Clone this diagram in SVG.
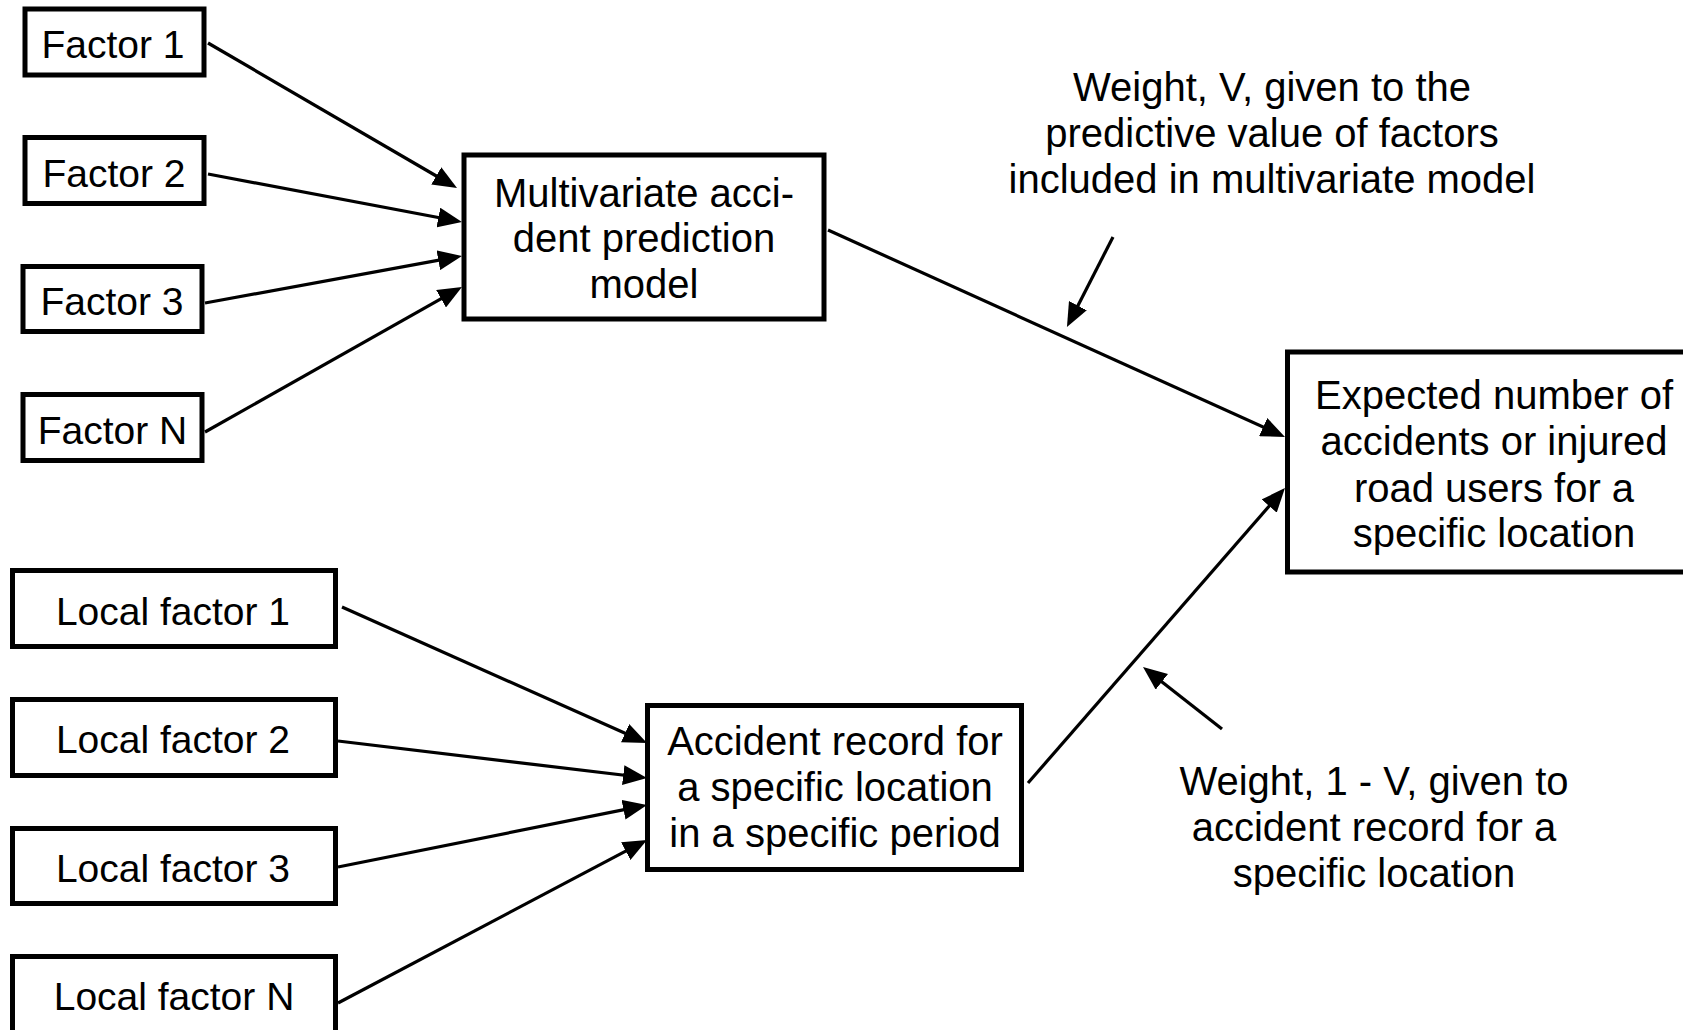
<svg xmlns="http://www.w3.org/2000/svg" width="1683" height="1030" viewBox="0 0 1683 1030">
<style>
.box{fill:#fff;stroke:#000;stroke-width:5}
.t{font-family:"Liberation Sans",Arial,sans-serif;font-size:40px;fill:#000;text-anchor:middle}
.f{font-size:39px}
.c{stroke:#000;stroke-width:3.2;fill:none;marker-end:url(#ah)}
</style>
<defs>
<marker id="ah" markerUnits="userSpaceOnUse" markerWidth="24" markerHeight="20" refX="16" refY="10" orient="auto">
<path d="M0,0 L24,10 L0,20 z" fill="#000"/>
</marker>
</defs>
<rect width="1683" height="1030" fill="#fff"/>
<g id="connectors">
<line class="c" x1="208" y1="43" x2="450.1" y2="184.0"/>
<line class="c" x1="208" y1="174" x2="454.1" y2="220.5"/>
<line class="c" x1="205" y1="303" x2="454.1" y2="257.4"/>
<line class="c" x1="205" y1="432" x2="455.0" y2="290.9"/>
<line class="c" x1="342" y1="607" x2="639.7" y2="739.7"/>
<line class="c" x1="338" y1="741" x2="639.1" y2="777.0"/>
<line class="c" x1="338" y1="867" x2="639.2" y2="806.6"/>
<line class="c" x1="338" y1="1003" x2="639.9" y2="843.7"/>
<line class="c" x1="828" y1="230" x2="1277.7" y2="433.7"/>
<line class="c" x1="1028" y1="783" x2="1279.7" y2="494.0"/>
<line class="c" x1="1113" y1="237" x2="1070.6" y2="319.9"/>
<line class="c" x1="1222" y1="729" x2="1149.3" y2="671.9"/>
</g>
<g id="factor1"><rect class="box" x="25" y="9" width="179" height="66"/><text class="t f" x="113" y="58">Factor 1</text></g>
<g id="factor2"><rect class="box" x="25" y="137.5" width="179" height="66"/><text class="t f" x="114" y="187">Factor 2</text></g>
<g id="factor3"><rect class="box" x="23" y="266.5" width="179" height="65"/><text class="t f" x="112" y="315">Factor 3</text></g>
<g id="factorN"><rect class="box" x="23" y="394.5" width="179" height="66"/><text class="t f" x="112.5" y="444">Factor N</text></g>
<g id="multivariate"><rect class="box" x="464" y="155" width="360" height="164"/>
<text class="t" x="644" y="207">Multivariate acci-</text>
<text class="t" x="644" y="252">dent prediction</text>
<text class="t" x="644" y="298">model</text></g>
<g id="expected"><rect class="box" x="1287.5" y="352" width="420" height="220"/>
<text class="t" x="1494" y="409">Expected number of</text>
<text class="t" x="1494" y="455">accidents or injured</text>
<text class="t" x="1494" y="502">road users for a</text>
<text class="t" x="1494" y="547">specific location</text></g>
<g id="local1"><rect class="box" x="12.5" y="570.5" width="323" height="76"/><text class="t f" x="173" y="625">Local factor 1</text></g>
<g id="local2"><rect class="box" x="12.5" y="699.5" width="323" height="76"/><text class="t f" x="173" y="753">Local factor 2</text></g>
<g id="local3"><rect class="box" x="12.5" y="828.5" width="323" height="75"/><text class="t f" x="173" y="882">Local factor 3</text></g>
<g id="localN"><rect class="box" x="12.5" y="956.5" width="323" height="90"/><text class="t f" x="174" y="1010">Local factor N</text></g>
<g id="accident"><rect class="box" x="647.5" y="705.5" width="374" height="164"/>
<text class="t" x="835" y="755">Accident record for</text>
<text class="t" x="835" y="801">a specific location</text>
<text class="t" x="835" y="847">in a specific period</text></g>
<g id="weightV">
<text class="t" x="1272" y="101">Weight, V, given to the</text>
<text class="t" x="1272" y="147">predictive value of factors</text>
<text class="t" x="1272" y="193">included in multivariate model</text></g>
<g id="weight1V">
<text class="t" x="1374" y="795">Weight, 1 - V, given to</text>
<text class="t" x="1374" y="841">accident record for a</text>
<text class="t" x="1374" y="887">specific location</text></g>
</svg>
